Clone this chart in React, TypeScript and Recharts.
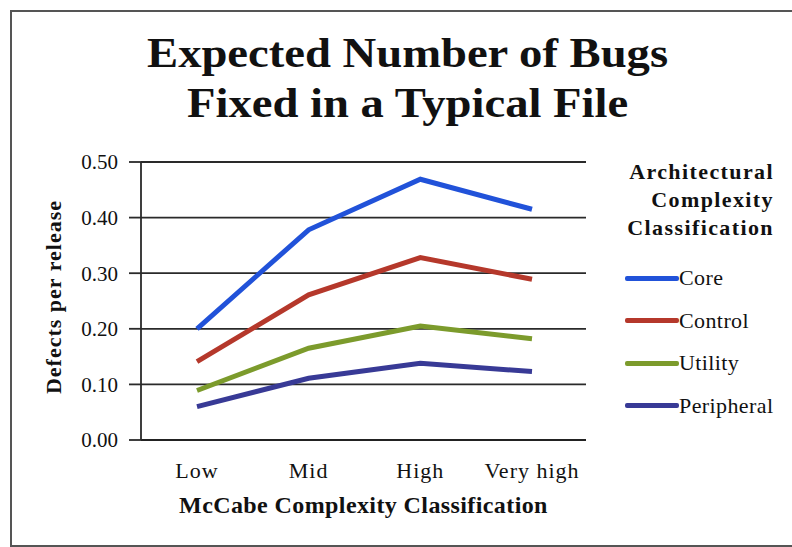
import { LineChart, Line, XAxis, YAxis, CartesianGrid, Label } from 'recharts'

const categories = ['Low', 'Mid', 'High', 'Very high']
const core = [0.2, 0.378, 0.469, 0.415]
const control = [0.141, 0.261, 0.328, 0.289]
const utility = [0.089, 0.165, 0.205, 0.182]
const peripheral = [0.06, 0.111, 0.138, 0.123]
const yTicks = [0, 0.1, 0.2, 0.3, 0.4, 0.5]

const series = [
  { key: 'Core', values: core, color: '#2152d9' },
  { key: 'Control', values: control, color: '#b5382b' },
  { key: 'Utility', values: utility, color: '#7c9b2c' },
  { key: 'Peripheral', values: peripheral, color: '#383a96' },
]

const data = categories.map((name, i) => {
  const row: Record<string, string | number> = { name }
  series.forEach((s) => {
    row[s.key] = s.values[i]
  })
  return row
})

const FONT = '"Liberation Serif", "DejaVu Serif", serif'

export default function App() {
  return (
    <div
      style={{
        position: 'absolute',
        left: 0,
        top: 0,
        width: 792,
        height: 547,
        background: '#fff',
        fontFamily: FONT,
        overflow: 'hidden',
      }}
    >
      {/* frame */}
      <div
        style={{
          position: 'absolute',
          left: 10,
          top: 10,
          width: 800,
          height: 533,
          border: '2px solid #555',
        }}
      />
      <div
        style={{
          position: 'absolute',
          left: 0,
          top: 28,
          width: 815,
          textAlign: 'center',
          fontSize: 42,
          fontWeight: 'bold',
          lineHeight: '50px',
          color: '#111',
          transform: 'scaleX(1.11)',
          transformOrigin: '407px 0',
        }}
      >
        Expected Number of Bugs
        <br />
        Fixed in a Typical File
      </div>

      <div style={{ position: 'absolute', left: 0, top: 0 }}>
        <LineChart
          width={792}
          height={547}
          data={data}
          margin={{ top: 162, right: 206, left: 41, bottom: 67 }}
        >
          <CartesianGrid vertical={false} stroke="#2a2a2a" strokeWidth={1.8} />
          <XAxis
            dataKey="name"
            padding={{ left: 56, right: 54 }}
            tickSize={0}
            tickMargin={22}
            height={40}
            axisLine={{ stroke: '#222', strokeWidth: 2 }}
            tick={{ fontSize: 22, fill: '#111', fontFamily: FONT, letterSpacing: 1 }}
          >
            <Label
              content={({ viewBox }: any) => (
                <text
                  x={viewBox.x + viewBox.width / 2}
                  y={viewBox.y + 73}
                  textAnchor="middle"
                  fontSize={24}
                  fontWeight="bold"
                  letterSpacing={0.4}
                  fontFamily={FONT}
                  fill="#111"
                >
                  McCabe Complexity Classification
                </text>
              )}
            />
          </XAxis>
          <YAxis
            width={100}
            domain={[0, 0.5]}
            ticks={yTicks}
            tickFormatter={(v: number) => v.toFixed(2)}
            tickSize={12}
            tickMargin={11}
            tickLine={{ stroke: '#2a2a2a', strokeWidth: 1.8 }}
            axisLine={{ stroke: '#2a2a2a', strokeWidth: 1.8 }}
            tick={{ fontSize: 21, fill: '#111', fontFamily: FONT }}
          >
            <Label
              content={({ viewBox }: any) => (
                <text
                  x={53}
                  y={viewBox.y + viewBox.height / 2 - 4}
                  transform={`rotate(-90, 53, ${viewBox.y + viewBox.height / 2 - 4})`}
                  textAnchor="middle"
                  dominantBaseline="central"
                  fontSize={22}
                  fontWeight="bold"
                  letterSpacing={1}
                  fontFamily={FONT}
                  fill="#111"
                >
                  Defects per release
                </text>
              )}
            />
          </YAxis>
          {series.map((s) => (
            <Line
              key={s.key}
              type="linear"
              dataKey={s.key}
              stroke={s.color}
              strokeWidth={5}
              dot={false}
              isAnimationActive={false}
            />
          ))}
        </LineChart>
      </div>

      {/* legend */}
      <div
        style={{
          position: 'absolute',
          left: 590,
          top: 158,
          width: 184,
          textAlign: 'right',
          fontSize: 22,
          fontWeight: 'bold',
          letterSpacing: 1.4,
          lineHeight: '28px',
          color: '#111',
        }}
      >
        Architectural
        <br />
        Complexity
        <br />
        Classification
      </div>
      {series.map((s, i) => (
        <div
          key={s.key}
          style={{
            position: 'absolute',
            left: 625,
            top: 264 + i * 42.5,
            height: 28,
            display: 'flex',
            alignItems: 'center',
            fontSize: 22,
            letterSpacing: 0.4,
            color: '#111',
          }}
        >
          <span
            style={{
              display: 'inline-block',
              width: 54,
              height: 5,
              background: s.color,
              borderRadius: 2,
            }}
          />
          <span>{s.key}</span>
        </div>
      ))}
    </div>
  )
}
